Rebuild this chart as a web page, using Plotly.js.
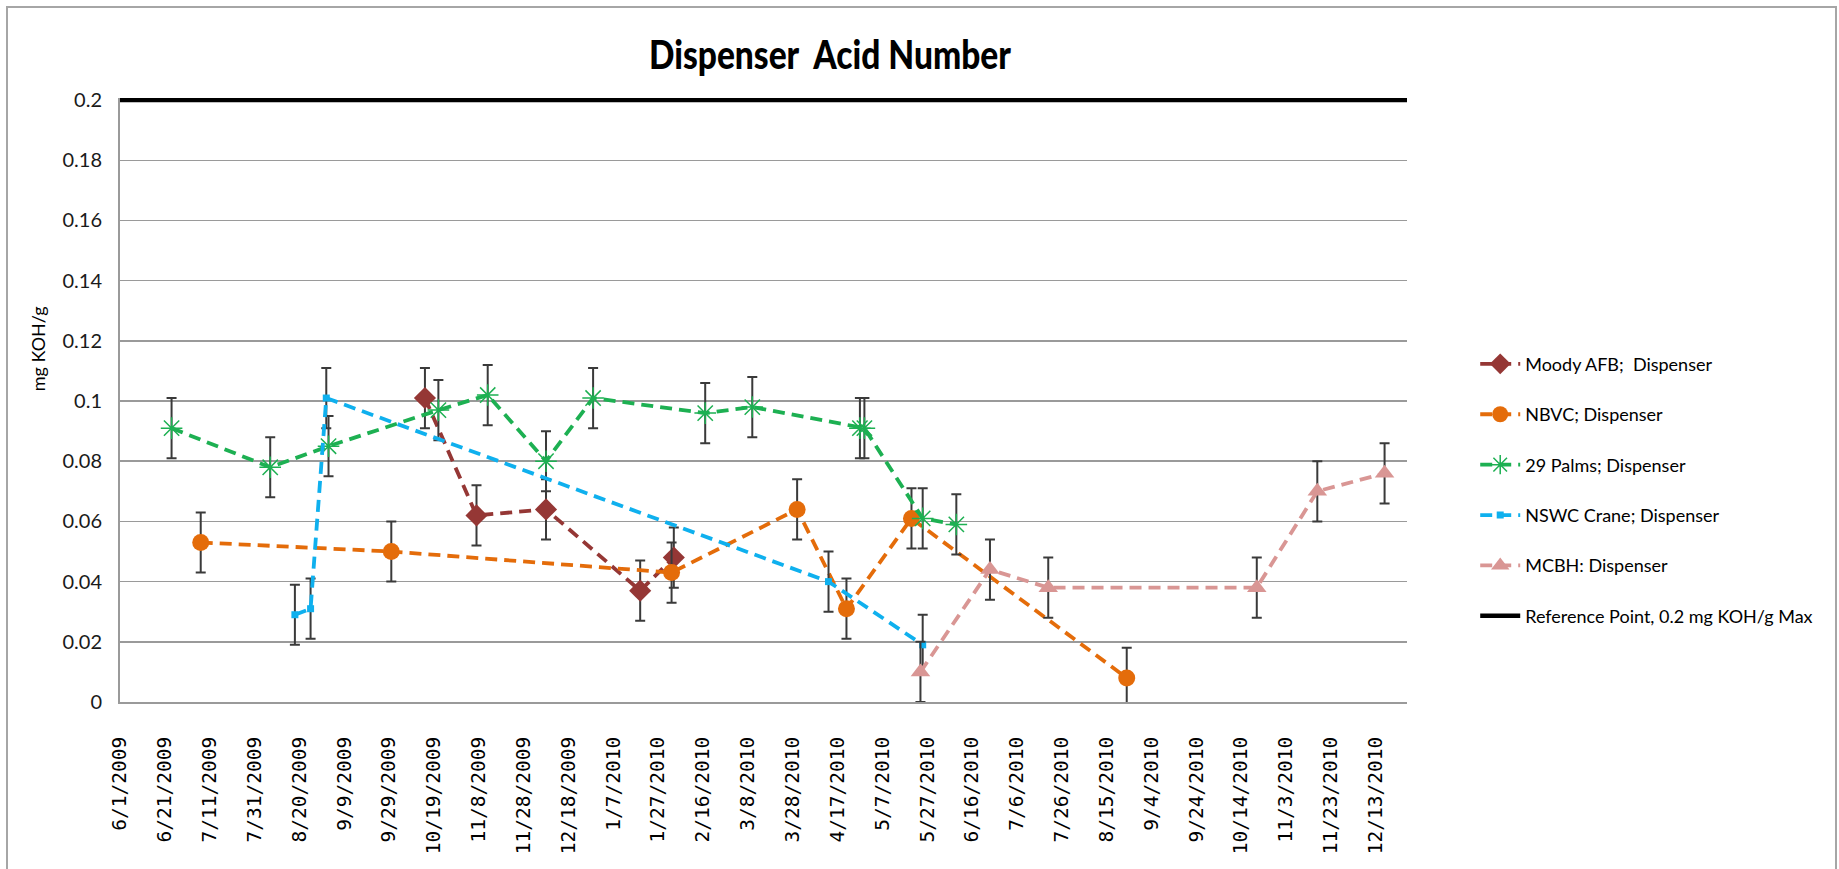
<!DOCTYPE html>
<html><head><meta charset="utf-8">
<script src="https://cdn.plot.ly/plotly-3.0.1.min.js"></script>
<style>
html,body{margin:0;padding:0;background:#fff;}
#wrap{position:relative;width:1839px;height:869px;overflow:hidden;}
#chart{width:1839px;height:869px;}
#frame{position:absolute;left:6px;top:6px;width:1831px;height:900px;border:2px solid #a6a6a6;pointer-events:none;box-sizing:border-box;}
</style></head><body>
<div id="wrap"><div id="chart"></div><div id="frame"></div></div>
<script>
// ---- data ----
const moodyDates = ['2009-10-15','2009-11-07','2009-12-08','2010-01-19','2010-02-03'];
const moodyVals  = [0.101, 0.062, 0.064, 0.037, 0.048];
const moodyErr   = [0.01, 0.01, 0.01, 0.01, 0.01];

const nbvcDates = ['2009-07-07','2009-09-30','2010-02-02','2010-03-30','2010-04-21','2010-05-20','2010-08-24'];
const nbvcVals  = [0.053, 0.050, 0.043, 0.064, 0.031, 0.061, 0.008];
const nbvcErr   = [0.01, 0.01, 0.01, 0.01, 0.01, 0.01, 0.01];

const palmsDates = ['2009-06-24','2009-08-07','2009-09-02','2009-10-21','2009-11-12','2009-12-08','2009-12-29','2010-02-17','2010-03-10','2010-04-27','2010-04-29','2010-05-25','2010-06-09'];
const palmsVals  = [0.091, 0.078, 0.085, 0.097, 0.102, 0.080, 0.101, 0.096, 0.098, 0.091, 0.091, 0.061, 0.059];
const palmsErr   = [0.01, 0.01, 0.01, 0.01, 0.01, 0.01, 0.01, 0.01, 0.01, 0.01, 0.01, 0.01, 0.01];

const craneDates = ['2009-08-18','2009-08-25','2009-09-01','2010-04-13','2010-05-25'];
const craneVals  = [0.029, 0.031, 0.101, 0.040, 0.019];
const craneErr   = [0.01, 0.01, 0.01, 0.01, 0.01];

const mcbhDates = ['2010-05-24','2010-06-24','2010-07-20','2010-10-21','2010-11-17','2010-12-17'];
const mcbhVals  = [0.010, 0.044, 0.038, 0.038, 0.070, 0.076];
const mcbhErr   = [0.01, 0.01, 0.01, 0.01, 0.01, 0.01];

const refDates = ['2009-06-01','2010-12-27'];
const refVals  = [0.2, 0.2];

const seriesNames = ['Moody AFB;  Dispenser','NBVC; Dispenser','29 Palms; Dispenser','NSWC Crane; Dispenser','MCBH: Dispenser','Reference Point, 0.2 mg KOH/g Max'];
const yTickVals = [0,0.02,0.04,0.06,0.08,0.1,0.12,0.14,0.16,0.18,0.2];
const yTickText = ['0','0.02','0.04','0.06','0.08','0.1','0.12','0.14','0.16','0.18','0.2'];

// ---- styling ----
const ERRSTYLE = {color:'#3a3a3a', thickness:2, width:5};
function mk(name, x, y, err, color, symbol, size, mline){
  return {
    type:'scatter', mode:'lines+markers', name:name, x:x, y:y,
    legendgroup:name,
    line:{color:color, width:3.8, dash:'12px,7px'},
    marker:{symbol:symbol, size:size, color:color, line:mline || {width:0}},
    error_y:Object.assign({type:'data', array:err, visible:true}, ERRSTYLE),
    cliponaxis:false
  };
}
const traces = [
  mk(seriesNames[0], moodyDates, moodyVals, moodyErr, '#953735', 'diamond', 17),
  mk(seriesNames[1], nbvcDates, nbvcVals, nbvcErr, '#E46C0A', 'circle', 17),
  mk(seriesNames[2], palmsDates, palmsVals, palmsErr, '#1DB052', 'asterisk-open', 18, {color:'#1DB052', width:1.5}),
  mk(seriesNames[3], craneDates, craneVals, craneErr, '#0FB0EE', 'square', 7),
  mk(seriesNames[4], mcbhDates, mcbhVals, mcbhErr, '#D99694', 'triangle-up', 17),
  {type:'scatter', mode:'lines', name:seriesNames[5], x:refDates, y:refVals, legendgroup:'ref',
   line:{color:'#000000', width:4.5}}
];

const TITLE_WIDTH = 362;
const layout = {
  width:1839, height:869,
  paper_bgcolor:'#ffffff', plot_bgcolor:'#ffffff',
  margin:{l:120, r:432, t:98, b:167, autoexpand:false},
  showlegend:true,
  title:{text:'Dispenser\u00a0 Acid Number', x:0.4513, xref:'container', xanchor:'center',
         y:0.937, yref:'container', yanchor:'middle',
         font:{family:'Lato, sans-serif', size:40, weight:900, color:'#000'}},
  xaxis:{type:'date', range:['2009-06-01','2010-12-27'], tick0:'2009-06-01', dtick:20*86400000,
         tickformat:'%-m/%-d/%Y', tickangle:-90, showgrid:false, zeroline:false, automargin:false,
         showline:true, linecolor:'#9a9a9a', linewidth:2, ticks:'', ticklabelstandoff:25,
         tickfont:{family:'"DejaVu Sans Mono", monospace', size:19.5, color:'#000'}},
  yaxis:{range:[0,0.2007], tickvals:yTickVals, ticktext:yTickText, showgrid:true, gridcolor:'#9a9a9a', gridwidth:1.6,
         zeroline:false, showline:true, linecolor:'#9a9a9a', linewidth:2, ticks:'', ticklabelstandoff:12, automargin:false,
         tickfont:{family:'Lato, sans-serif', size:20, color:'#1a1a1a'}},
  legend:{x:1.053, xanchor:'left', y:0.590, yanchor:'top', traceorder:'grouped', tracegroupgap:24,
          font:{family:'Lato, sans-serif', size:18, color:'#000'}, bgcolor:'rgba(0,0,0,0)', itemwidth:40},
  annotations:[{text:'mg KOH/g', textangle:-90, xref:'paper', yref:'paper', x:-0.064, y:0.585,
                xanchor:'center', yanchor:'middle', showarrow:false,
                font:{family:'Lato, sans-serif', size:18, color:'#000'}}]
};
Plotly.newPlot('chart', traces, layout, {staticPlot:true, displayModeBar:false}).then(function(gd){
  // condense the title horizontally to the reference's narrow face
  const t = gd.querySelector('.gtitle');
  if (t) {
    const bb = t.getBBox();
    const cx = bb.x + bb.width/2;
    const sx = TITLE_WIDTH / bb.width;
    const prev = t.getAttribute('transform') || '';
    t.setAttribute('transform', prev + ' translate(' + cx + ',0) scale(' + sx + ',1) translate(' + (-cx) + ',0)');
  }
});
</script></body></html>
